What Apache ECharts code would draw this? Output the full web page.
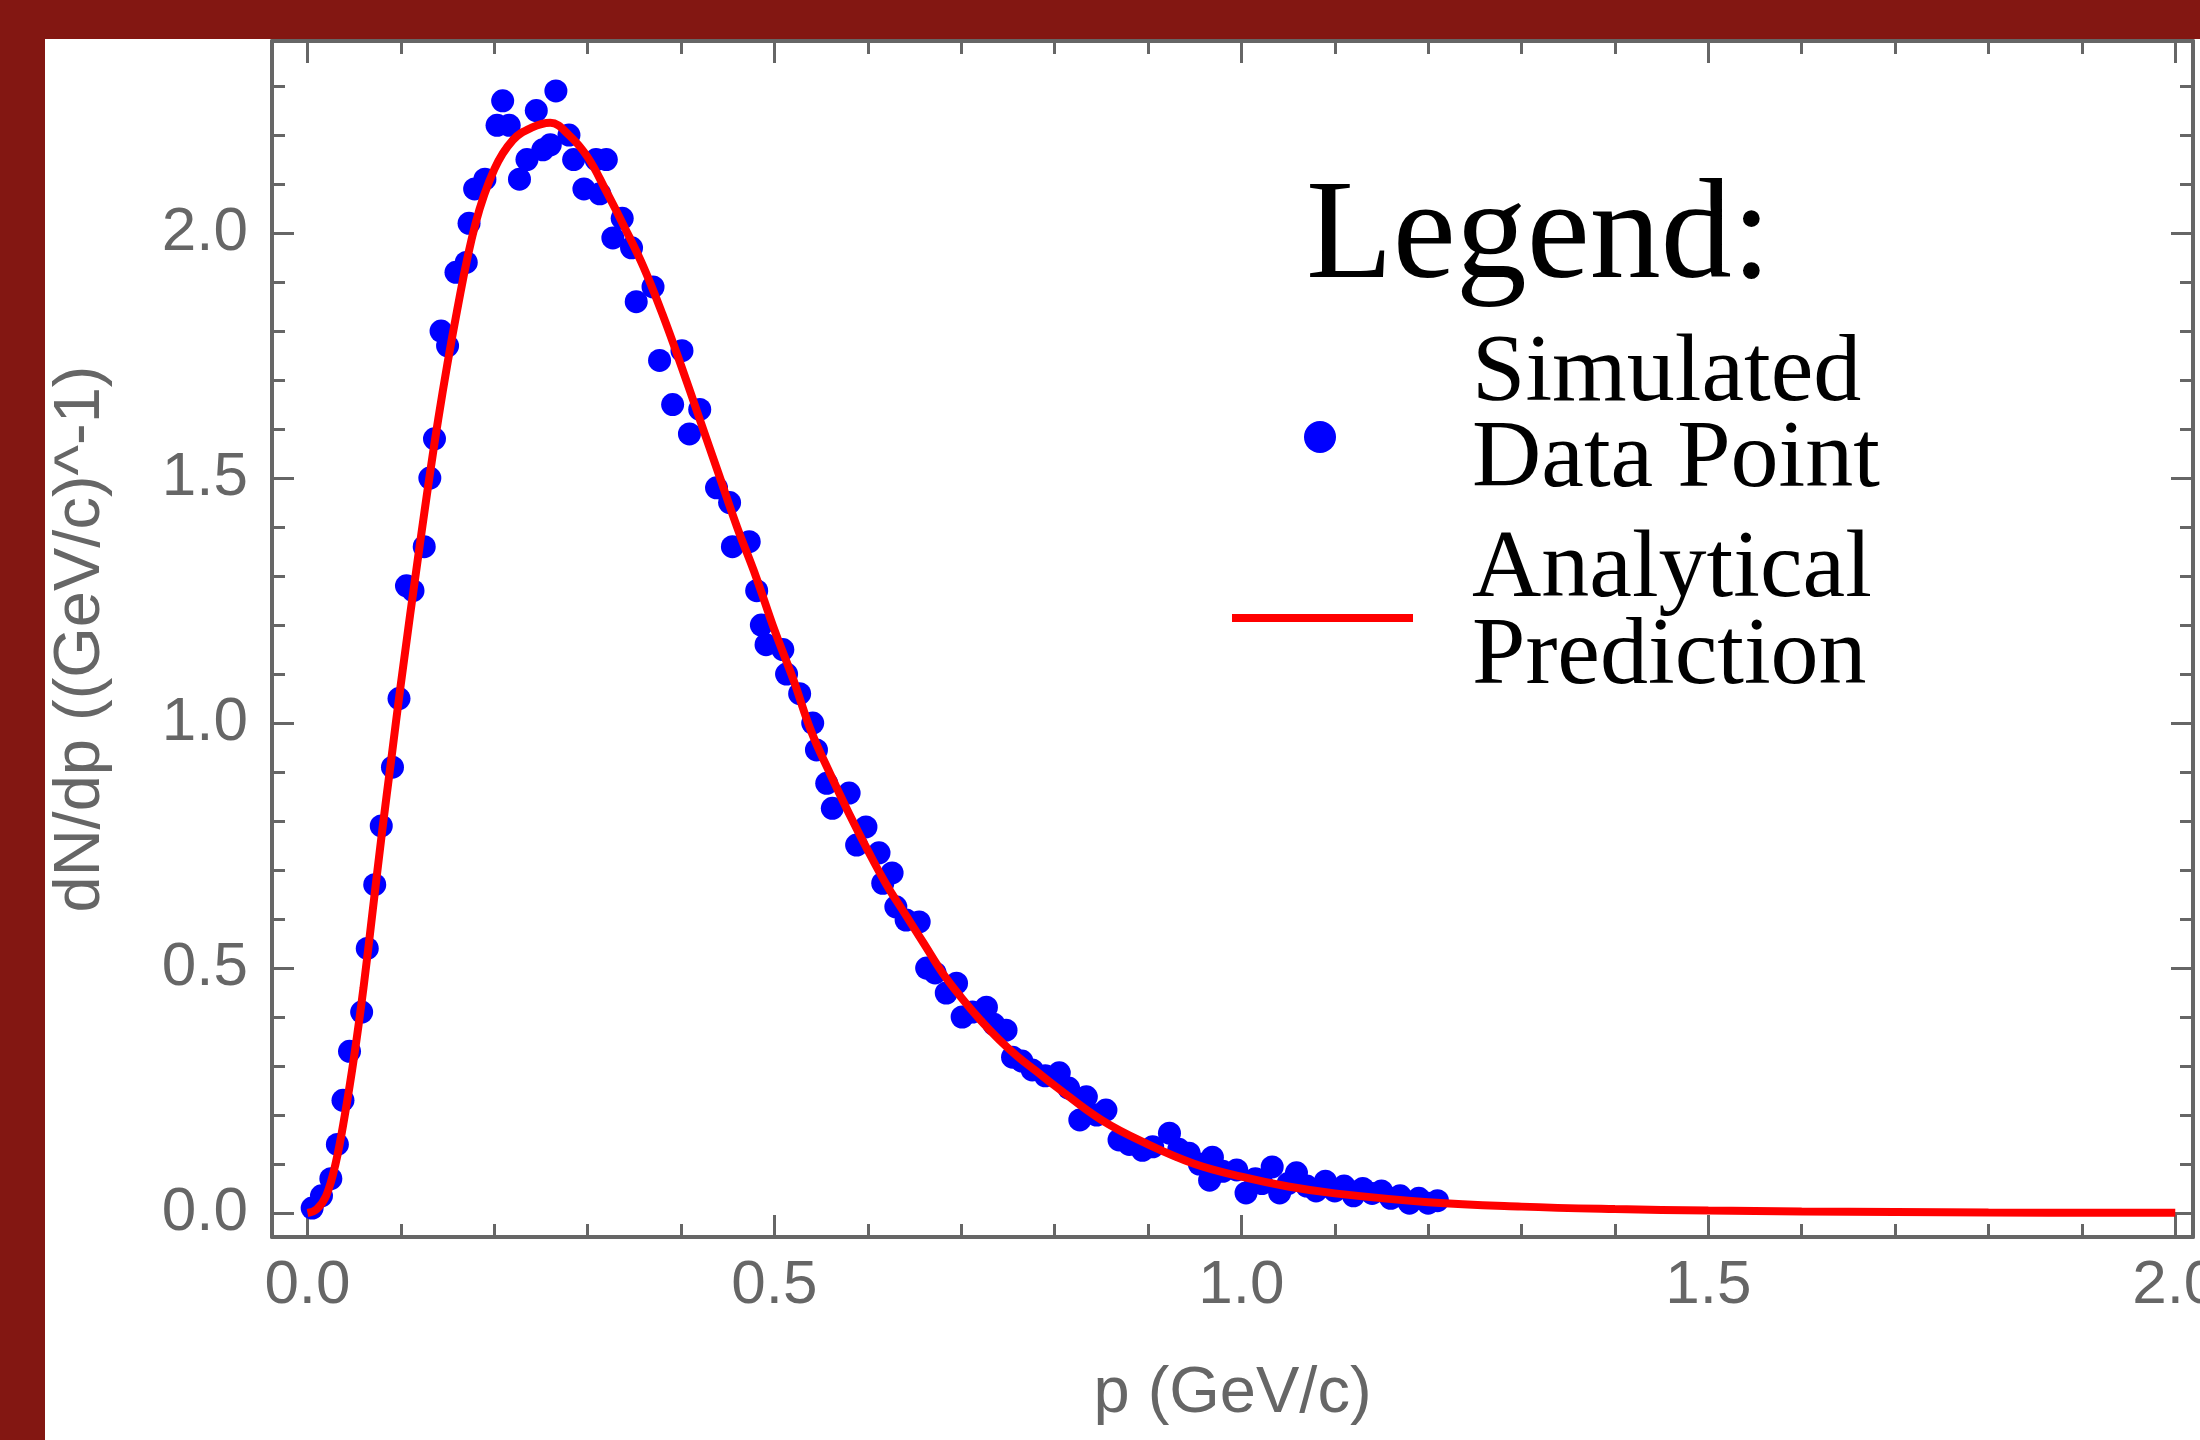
<!DOCTYPE html>
<html>
<head>
<meta charset="utf-8">
<title>dN/dp vs p</title>
<script src="https://cdn.jsdelivr.net/npm/echarts@6/dist/echarts.min.js"></script>
<style>
  html, body { margin: 0; padding: 0; background: #831712; overflow: hidden; }
  #chart { position: absolute; left: 45px; top: 39px; width: 2155px; height: 1401px; background: #fff; }
</style>
</head>
<body>
<div id="chart"></div>
<script>
// simulated data points (p, dN/dp)
const simP = [0.005, 0.015, 0.025, 0.032, 0.038, 0.045, 0.058, 0.064, 0.072, 0.079,
  0.091, 0.098, 0.106, 0.113, 0.125, 0.131, 0.136, 0.143, 0.150, 0.159,
  0.170, 0.173, 0.179, 0.190, 0.203, 0.209, 0.216, 0.227, 0.235, 0.245,
  0.252, 0.260, 0.266, 0.280, 0.285, 0.296, 0.309, 0.313, 0.320, 0.327,
  0.337, 0.347, 0.352, 0.370, 0.377, 0.391, 0.401, 0.409, 0.420, 0.438,
  0.452, 0.455, 0.473, 0.481, 0.486, 0.491, 0.509, 0.513, 0.527, 0.541,
  0.545, 0.556, 0.562, 0.580, 0.588, 0.598, 0.612, 0.616, 0.626, 0.630,
  0.641, 0.655, 0.663, 0.672, 0.684, 0.695, 0.701, 0.712, 0.727, 0.735,
  0.748, 0.755, 0.765, 0.776, 0.790, 0.805, 0.815, 0.827, 0.834, 0.845,
  0.855, 0.869, 0.880, 0.894, 0.905, 0.923, 0.933, 0.944, 0.955, 0.966,
  0.969, 0.980, 0.995, 1.005, 1.015, 1.022, 1.033, 1.041, 1.050, 1.059,
  1.070, 1.080, 1.090, 1.100, 1.110, 1.120, 1.130, 1.140, 1.150, 1.160,
  1.170, 1.180, 1.190, 1.200, 1.210]
const simV = [0.01, 0.035, 0.07, 0.14, 0.23, 0.33, 0.41, 0.54, 0.67, 0.79,
  0.91, 1.05, 1.28, 1.27, 1.36, 1.50, 1.58, 1.80, 1.77, 1.92,
  1.94, 2.02, 2.09, 2.11, 2.22, 2.27, 2.22, 2.11, 2.15, 2.25,
  2.17, 2.18, 2.29, 2.20, 2.15, 2.09, 2.15, 2.08, 2.15, 1.99,
  2.03, 1.97, 1.86, 1.89, 1.74, 1.65, 1.76, 1.59, 1.64, 1.48,
  1.45, 1.36, 1.37, 1.27, 1.20, 1.16, 1.15, 1.10, 1.06, 1.00,
  0.945, 0.877, 0.826, 0.857, 0.751, 0.788, 0.735, 0.673, 0.694, 0.625,
  0.598, 0.594, 0.50, 0.49, 0.449, 0.469, 0.40, 0.41, 0.42, 0.385,
  0.373, 0.318, 0.31, 0.292, 0.28, 0.286, 0.255, 0.19, 0.237, 0.20,
  0.21, 0.149, 0.14, 0.128, 0.135, 0.163, 0.13, 0.122, 0.10, 0.067,
  0.114, 0.085, 0.088, 0.041, 0.07, 0.06, 0.094, 0.041, 0.06, 0.082,
  0.055, 0.045, 0.065, 0.045, 0.055, 0.035, 0.05, 0.04, 0.045, 0.03,
  0.035, 0.02, 0.03, 0.02, 0.025]

// analytical prediction
const curveP = [0, 0.01, 0.02, 0.03, 0.04, 0.05, 0.06, 0.07, 0.08, 0.09,
  0.10, 0.12, 0.14, 0.16, 0.18, 0.20, 0.22, 0.24, 0.26, 0.28,
  0.30, 0.32, 0.34, 0.36, 0.38, 0.40, 0.42, 0.44, 0.46, 0.48,
  0.50, 0.52, 0.54, 0.56, 0.58, 0.60, 0.62, 0.64, 0.66, 0.68,
  0.70, 0.72, 0.74, 0.76, 0.78, 0.80, 0.85, 0.90, 0.95, 1.00,
  1.05, 1.10, 1.20, 1.30, 1.40, 1.50, 1.60, 1.80, 2.00]
const curveV = [0.000, 0.008, 0.035, 0.10, 0.20, 0.32, 0.46, 0.62, 0.78, 0.93,
  1.08, 1.36, 1.62, 1.84, 2.02, 2.13, 2.19, 2.215, 2.225, 2.20,
  2.155, 2.085, 2.01, 1.93, 1.835, 1.73, 1.62, 1.51, 1.40, 1.30,
  1.19, 1.09, 0.98, 0.895, 0.815, 0.74, 0.67, 0.61, 0.55, 0.49,
  0.44, 0.395, 0.355, 0.32, 0.29, 0.26, 0.19, 0.14, 0.10, 0.074,
  0.054, 0.040, 0.022, 0.013, 0.008, 0.005, 0.003, 0.001, 0.0005]

const xName = 'p (GeV/c)'
const yName = 'dN/dp ((GeV/c)^-1)'
const legendTitle = 'Legend:'
const legendItems = ['Simulated\nData Point', 'Analytical\nPrediction']

const frameColor = '#666'
const labelColor = '#666'
const sans = '"Liberation Sans", Arial, sans-serif'
const serif = '"Liberation Serif", "Times New Roman", serif'

const xMin = -0.038
const xMax = 2.019
const yMin = -0.049
const yMax = 2.392

function tickLabel(v) {
  return Math.abs(v * 2 - Math.round(v * 2)) < 1e-6 ? v.toFixed(1) : ''
}

function frameAxis(extra) {
  return Object.assign({
    type: 'value',
    splitNumber: 4,
    axisLine: { show: true, onZero: false, lineStyle: { color: frameColor, width: 4 } },
    axisTick: { show: true, inside: true, length: 22, lineStyle: { color: frameColor, width: 3 } },
    minorTick: { show: true, splitNumber: 5, length: 13, lineStyle: { color: frameColor, width: 3 } },
    splitLine: { show: false },
    minorSplitLine: { show: false }
  }, extra)
}

const chart = echarts.init(document.getElementById('chart'))

chart.setOption({
  animation: false,
  backgroundColor: '#fff',
  grid: { left: 227, right: 7, top: 2, bottom: 203, containLabel: false, outerBoundsMode: 'none' },
  xAxis: [
    frameAxis({
      position: 'bottom', min: xMin, max: xMax,
      name: xName, nameLocation: 'middle', nameGap: 125, nameMoveOverlap: false,
      nameTextStyle: { color: labelColor, fontFamily: sans, fontSize: 65 },
      axisLabel: { color: labelColor, fontFamily: sans, fontSize: 62, margin: 18, formatter: tickLabel, hideOverlap: false }
    }),
    frameAxis({
      position: 'top', min: xMin, max: xMax,
      axisLabel: { show: false }
    })
  ],
  yAxis: [
    frameAxis({
      position: 'left', min: yMin, max: yMax, splitNumber: 5,
      name: yName, nameLocation: 'middle', nameGap: 158, nameMoveOverlap: false,
      nameTextStyle: { color: labelColor, fontFamily: sans, fontSize: 65 },
      axisLabel: { color: labelColor, fontFamily: sans, fontSize: 62, margin: 24, formatter: tickLabel }
    }),
    frameAxis({
      position: 'right', min: yMin, max: yMax, splitNumber: 5,
      axisLabel: { show: false }
    })
  ],
  graphic: [
    {
      type: 'text', x: 1261, y: 201,
      style: { text: legendTitle, font: '142px ' + serif, fill: '#000', align: 'left', verticalAlign: 'middle' }
    },
    {
      type: 'circle', shape: { cx: 1275, cy: 398, r: 16 },
      style: { fill: '#0000ff' }
    },
    {
      type: 'text', x: 1427, y: 379,
      style: { text: legendItems[0], font: '96px ' + serif, lineHeight: 86, fill: '#000', align: 'left', verticalAlign: 'middle' }
    },
    {
      type: 'line', shape: { x1: 1187, y1: 579, x2: 1368, y2: 579 },
      style: { stroke: '#ff0000', lineWidth: 8 }
    },
    {
      type: 'text', x: 1427, y: 575,
      style: { text: legendItems[1], font: '96px ' + serif, lineHeight: 87, fill: '#000', align: 'left', verticalAlign: 'middle' }
    }
  ],
  series: [
    {
      name: 'Simulated Data Point',
      type: 'scatter',
      xAxisIndex: 0,
      yAxisIndex: 0,
      symbol: 'circle',
      symbolSize: 23,
      itemStyle: { color: '#0000ff', opacity: 1 },
      data: simP.map((p, i) => [p, simV[i]]),
      z: 2
    },
    {
      name: 'Analytical Prediction',
      type: 'line',
      xAxisIndex: 0,
      yAxisIndex: 0,
      smooth: 0.4,
      showSymbol: false,
      lineStyle: { color: '#ff0000', width: 8 },
      data: curveP.map((p, i) => [p, curveV[i]]),
      z: 3
    }
  ]
})

window.addEventListener('resize', () => chart.resize())
</script>
</body>
</html>
